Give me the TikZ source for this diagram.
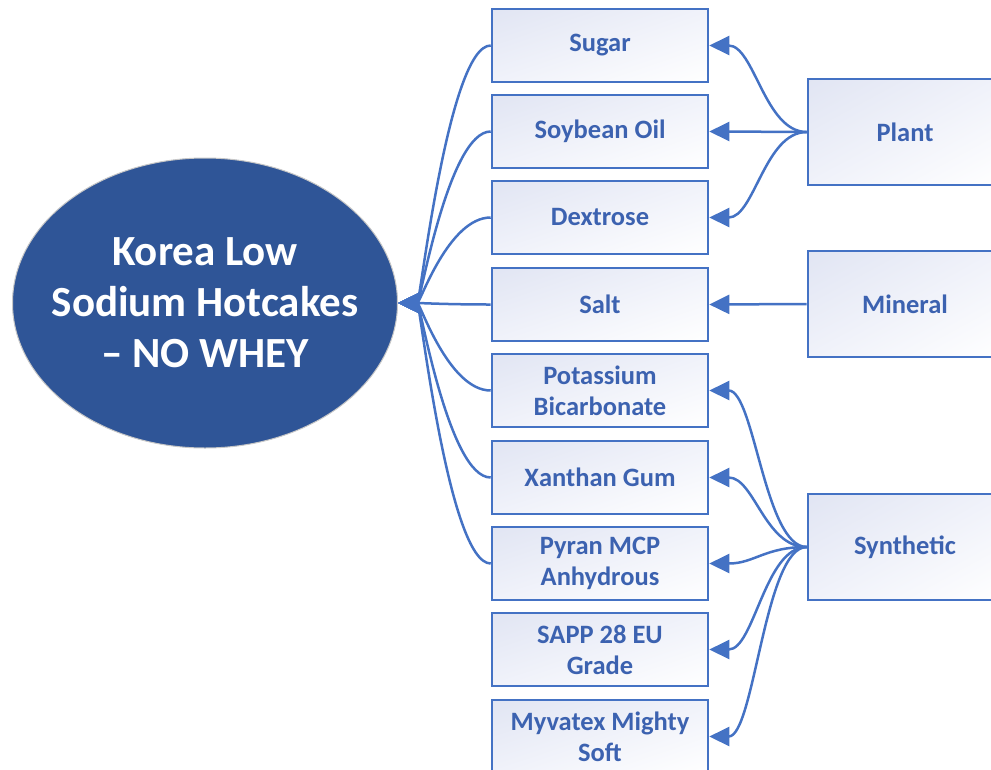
\documentclass[tikz,border=0pt]{standalone}
\usepackage{fontspec}
\setmainfont{Carlito}
\usetikzlibrary{arrows.meta,shapes.geometric,shadings}
\definecolor{lineblue}{HTML}{4472C4}
\definecolor{textblue}{HTML}{3C62B0}
\definecolor{ellfill}{HTML}{2F5597}
\definecolor{boxtl}{HTML}{E1E5F3}
\definecolor{boxmid}{HTML}{F0F2FA}
\tikzset{
  ingr/.style={draw=lineblue, line width=2.6pt, minimum width=216pt, minimum height=73pt,
    upper left=boxtl, upper right=boxmid, lower left=boxmid, lower right=white,
    text=textblue, align=center, inner sep=0pt,
    font=\fontsize{26.5}{31}\selectfont\bfseries},
  srcbox/.style={ingr, minimum width=194pt, minimum height=106pt},
  conn/.style={draw=lineblue, line width=2.5pt, -{Triangle[length=20pt,width=19pt]}},
}
\begin{document}
\begin{tikzpicture}[x=1pt,y=-1pt]
\useasboundingbox (0,0) rectangle (991,769);
\node[ellipse, draw=black!22, line width=1pt, fill=ellfill, minimum width=385pt, minimum height=290pt,
  inner sep=0pt] (main) at (205,303) {};
\node[text=white, align=center, font=\fontsize{43}{51}\selectfont\bfseries]
  (title) at (main.center) {Korea Low\\Sodium Hotcakes\\– NO WHEY};

\node[ingr] (sugar) at (600,45.5) {Sugar};
\node[ingr] (soy) at (600,131.5) {Soybean Oil};
\node[ingr] (dex) at (600,217.5) {Dextrose};
\node[ingr] (salt) at (600,304.5) {Salt};
\node[ingr] (pot) at (600,390.5) {Potassium\\Bicarbonate};
\node[ingr] (xan) at (600,477.5) {Xanthan Gum};
\node[ingr] (pyr) at (600,563.5) {Pyran MCP\\Anhydrous};
\node[ingr] (sapp) at (600,649.5) {SAPP 28 EU\\Grade};
\node[ingr] (myv) at (600,736.5) {Myvatex Mighty\\Soft};

\node[srcbox] (plant) at (905,132) {Plant};
\node[srcbox] (mineral) at (905,304) {Mineral};
\node[srcbox] (synth) at (905,547) {Synthetic};

\foreach \n in {sugar,soy,dex,salt,pot,xan,pyr}
  \draw[conn] (\n.west) .. controls +(-42,0) and +(22,0) .. (main.east);

\foreach \n in {sugar,soy,dex}
  \draw[conn] (plant.west) .. controls +(-42,0) and +(45,0) .. (\n.east);
\draw[conn] (mineral.west) -- (salt.east);
\foreach \n in {pot,xan,pyr,sapp,myv}
  \draw[conn] (synth.west) .. controls +(-42,0) and +(45,0) .. (\n.east);
\end{tikzpicture}
\end{document}
